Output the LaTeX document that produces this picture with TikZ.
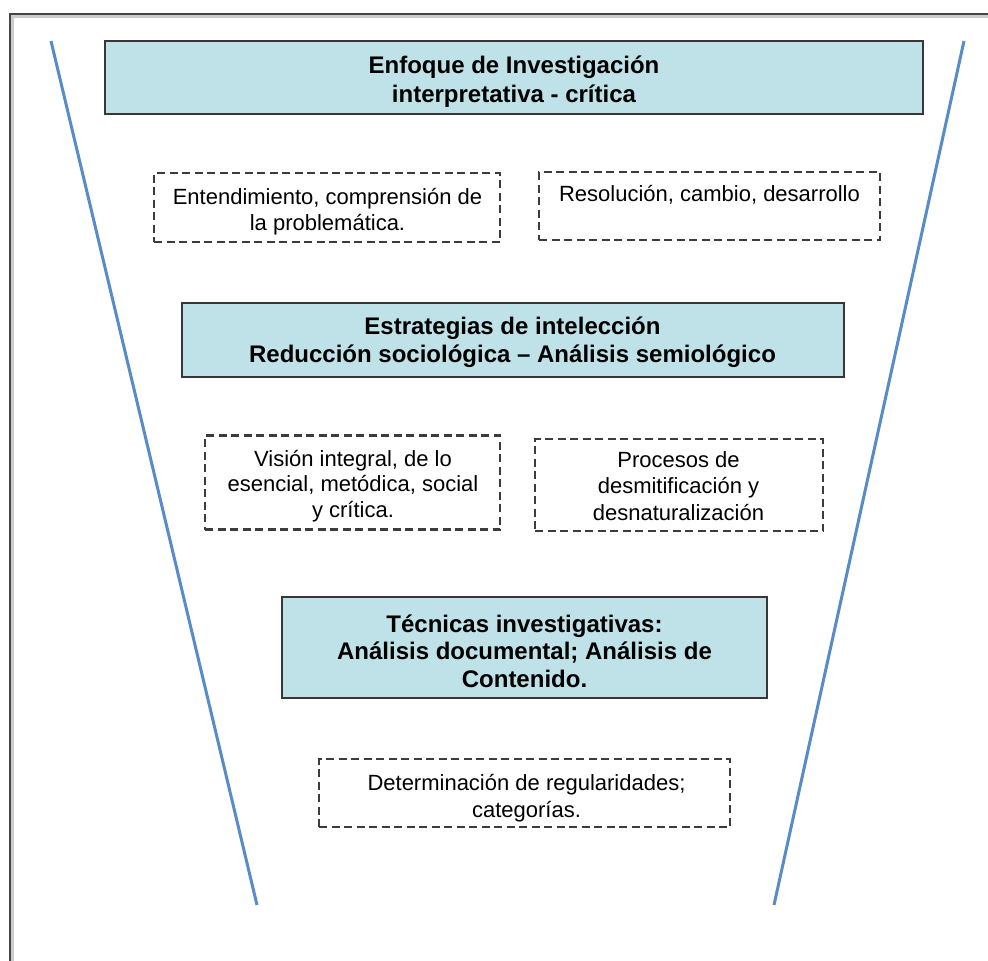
\documentclass[tikz,border=0pt]{standalone}
\usepackage{fontspec}
\setmainfont{Liberation Sans}
\definecolor{boxblue}{RGB}{191,226,232}
\definecolor{boxedge}{RGB}{55,55,55}
\definecolor{funnel}{RGB}{88,140,200}
\definecolor{frameg}{RGB}{70,70,70}
\definecolor{dashg}{RGB}{60,60,60}
\newcommand\lnstrut{\rule{0pt}{20pt}}
\tikzset{
  mainbox/.style={draw=boxedge, line width=2pt, fill=boxblue, inner sep=0pt},
  notebox/.style={draw=dashg, line width=2.1pt, dash pattern=on 8pt off 4.5pt, inner sep=0pt},
  boldlabel/.style={inner sep=0pt, anchor=north, align=center, font=\bfseries\fontsize{24}{#1}\selectfont},
  plainlabel/.style={inner sep=0pt, anchor=north, align=center, font=\fontsize{22}{#1}\selectfont},
  funnelline/.style={draw=funnel, line width=3pt},
}
\begin{document}
\begin{tikzpicture}[x=1pt,y=-1pt]
\useasboundingbox (0,0) rectangle (988,961);
\clip (0,0) rectangle (988,961);
\fill[white] (0,0) rectangle (988,961);
% frame
\draw[black!20, line width=3pt] (12,1000) -- (12,16) -- (1000,16);
\draw[frameg, line width=2pt] (10,1000) -- (10,14) -- (1000,14);
% funnel
\coordinate (lt) at (51,41);
\coordinate (lb) at (257,905);
\coordinate (rt) at (964,41);
\coordinate (rb) at (774,905);
\draw[funnelline] (lt) -- (lb);
\draw[funnelline] (rt) -- (rb);
% boxes
\node[mainbox, minimum width=818pt, minimum height=73pt] (b1) at (514,77.5) {};
\node[boldlabel=29] (t1) at (514,53) {\lnstrut Enfoque de Investigación\\interpretativa - crítica};

\node[notebox, minimum width=346pt, minimum height=69pt] (d1) at (327,207.5) {};
\node[plainlabel=26] (s1) at (327.5,184) {\lnstrut Entendimiento, comprensión de\\la problemática.};

\node[notebox, minimum width=341pt, minimum height=68pt] (d2) at (709.5,206) {};
\node[plainlabel=26] (s2) at (709.5,181) {\lnstrut Resolución, cambio, desarrollo};

\node[mainbox, minimum width=662pt, minimum height=74pt] (b2) at (512.5,340) {};
\node[boldlabel=28] (t2) at (512.5,314) {\lnstrut Estrategias de intelección\\Reducción sociológica – Análisis semiológico};

\node[notebox, minimum width=295pt, minimum height=94pt] (d3) at (352.5,482.5) {};
\node[plainlabel=25.5] (s3) at (353,446) {\lnstrut Visión integral, de lo\\esencial, metódica, social\\y crítica.};

\node[notebox, minimum width=288pt, minimum height=92pt] (d4) at (679,485) {};
\node[plainlabel=26.5] (s4) at (678.5,447) {\lnstrut Procesos de\\desmitificación y\\desnaturalización};

\node[mainbox, minimum width=485pt, minimum height=101pt] (b3) at (524.5,647.5) {};
\node[boldlabel=27.5] (t3) at (524.5,612) {\lnstrut Técnicas investigativas:\\Análisis documental; Análisis de\\Contenido.};

\node[notebox, minimum width=411pt, minimum height=68pt] (d5) at (524.5,793) {};
\node[plainlabel=27] (s5) at (526.5,770.5) {\lnstrut Determinación de regularidades;\\categorías.};
\end{tikzpicture}
\end{document}
